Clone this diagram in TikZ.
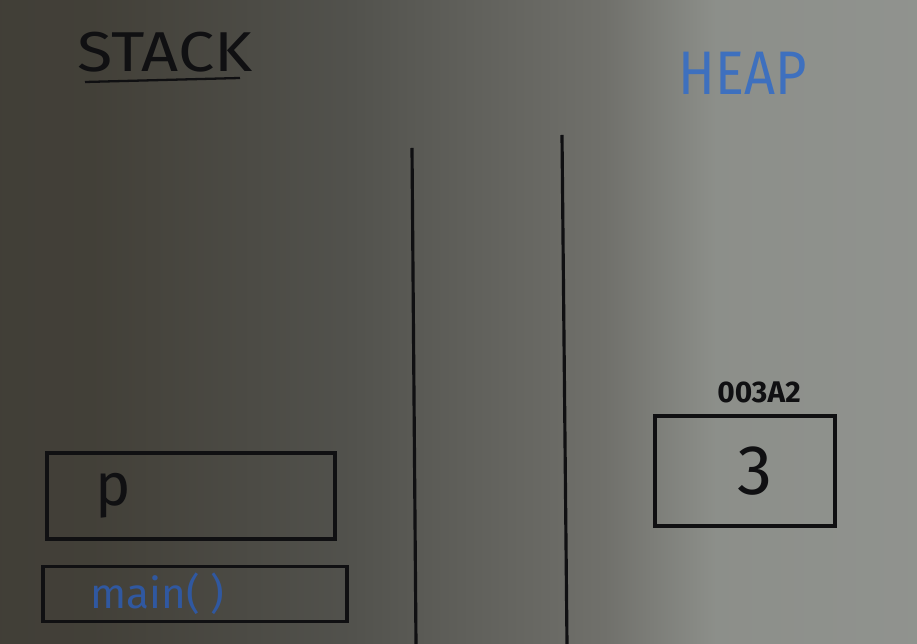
\documentclass[tikz,border=0pt]{standalone}
\usepackage{fontspec}
\setmainfont{Fira Sans}
\usetikzlibrary{positioning}

\definecolor{inkblack}{RGB}{16,16,18}
\definecolor{inkblue}{RGB}{62,112,190}
\definecolor{inkbluedark}{RGB}{48,88,160}

\pgfdeclarehorizontalshading{board}{100bp}{
  rgb(0bp)=(0.23,0.22,0.20);
  rgb(30bp)=(0.26,0.25,0.22);
  rgb(44bp)=(0.32,0.32,0.30);
  rgb(58bp)=(0.44,0.44,0.42);
  rgb(64bp)=(0.55,0.56,0.54);
  rgb(100bp)=(0.60,0.61,0.60)}

\begin{document}
\begin{tikzpicture}
  [x=0.02cm, y=-0.02cm,
   box/.style={draw=inkblack, line width=2.2pt, inner sep=0pt},
   ink/.style={text=inkblack, inner sep=0pt},
   divider/.style={draw=inkblack, line width=1.8pt}]
  \useasboundingbox (0,0) rectangle (917,644);
  \shade[shading=board] (0,0) rectangle (917,644);
  % titles
  \node[ink, font=\fontsize{32}{32}\selectfont, xscale=1.15] (stack) at (165,52) {STACK};
  \draw[draw=inkblack, line width=1.3pt] (85,82) -- (240,78);
  \node[inner sep=0pt, text=inkblue, font=\fontsize{35}{35}\selectfont, xscale=0.88] (heap) at (743,73) {HEAP};
  % dividers
  \draw[divider] (412,148) -- (416,644);
  \draw[divider] (562,135) -- (567,644);
  % stack frames
  \node[box, minimum width=288*0.02cm, minimum height=86*0.02cm] (pframe) at (191,496) {};
  \node[ink, font=\fontsize{34}{34}\selectfont, right=1.0cm of pframe.west] (pvar) {p};
  \node[box, minimum width=304*0.02cm, minimum height=55*0.02cm] (mainframe) at (195,594) {};
  \node[inner sep=0pt, text=inkbluedark, font=\fontsize{24}{24}\selectfont, right=0.98cm of mainframe.west] (mainlabel) {main( )};
  % heap object
  \node[box, minimum width=180*0.02cm, minimum height=110*0.02cm] (obj) at (745,471) {};
  \node[ink, font=\fontsize{40}{40}\selectfont] (objval) at ([xshift=0.2cm]obj.center) {3};
  \node[ink, font=\bfseries\fontsize{17}{17}\selectfont, above right=0.22cm and -2.4cm of obj.north east] (addr) {003A2};
\end{tikzpicture}
\end{document}
